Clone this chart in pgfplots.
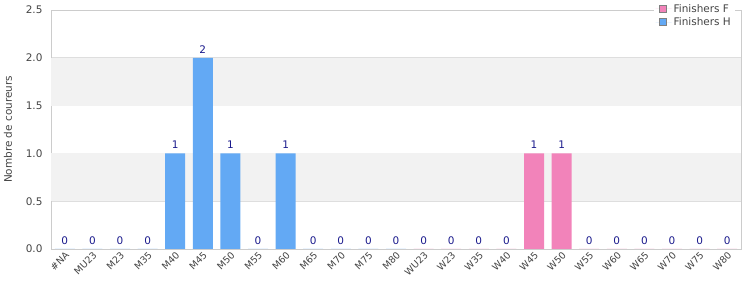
\documentclass[border=0pt]{standalone}
\usepackage{fontspec}
\setmainfont{DejaVu Sans}
\usepackage{pgfplots}
\pgfplotsset{compat=1.18}
\definecolor{barH}{HTML}{63A9F4}
\definecolor{barF}{HTML}{F283BA}
\definecolor{lbl}{HTML}{1A1A8C}
\definecolor{band}{HTML}{F2F2F2}
\definecolor{gridc}{HTML}{DEDEDE}
\definecolor{framec}{HTML}{CCCCCC}
\definecolor{txt}{HTML}{444444}
\begin{document}
\begin{tikzpicture}
\useasboundingbox (0,0) rectangle (750bp,300bp);
\begin{axis}[
  at={(51bp,51bp)}, anchor=south west,
  scale only axis, width=690bp, height=239bp,
  xmin=-0.5, xmax=24.5, ymin=0, ymax=2.5,
  ytick={0,0.5,1,1.5,2,2.5},
  yticklabel style={/pgf/number format/fixed, /pgf/number format/fixed zerofill, /pgf/number format/precision=1, font=\fontsize{10.5}{12}\selectfont, text=txt, xshift=-5bp},
  /pgf/number format/assume math mode=true,
  xtick={0,...,24},
  xticklabels={\#NA,MU23,M23,M35,M40,M45,M50,M55,M60,M65,M70,M75,M80,WU23,W23,W35,W40,W45,W50,W55,W60,W65,W70,W75,W80},
  xticklabel style={rotate=45, anchor=north east, font=\fontsize{9.5}{11}\selectfont, text=txt, inner sep=1.5bp},
  major tick length=0pt,
  ymajorgrids, grid style={gridc, line width=0.8bp},
  axis line style={framec, line width=0.8bp},
  ylabel={Nombre de coureurs},
  ylabel style={font=\fontsize{10.5}{12}\selectfont, text=txt, yshift=7bp},
  ybar, bar width=20bp, bar shift=0pt,
  nodes near coords,
  every node near coord/.append style={font=\fontsize{10.5}{12}\selectfont, text=lbl, yshift=1bp},
  legend style={at={(1,1)}, anchor=north east, xshift=-6bp, yshift=10bp, draw=none, fill=white, font=\fontsize{10.5}{12}\selectfont, text=txt, row sep=0bp, inner sep=2bp, nodes={inner sep=2bp}},
  legend cell align=left,
  legend image code/.code={\path (0bp,0bp) -- (16bp,0bp); \draw[#1, draw=gray, line width=0.8bp] (4bp,-3.5bp) rectangle (11bp,3.5bp);},
  clip=false,
]
\fill[band] (axis cs:-0.5,0.5) rectangle (axis cs:24.5,1.0);
\fill[band] (axis cs:-0.5,1.5) rectangle (axis cs:24.5,2.0);
\addplot[fill=barF, draw=none] coordinates {(13,0) (14,0) (15,0) (16,0) (17,1) (18,1) (19,0) (20,0) (21,0) (22,0) (23,0) (24,0)};
\addlegendentry{Finishers F}
\addplot[fill=barH, draw=none] coordinates {(0,0) (1,0) (2,0) (3,0) (4,1) (5,2) (6,1) (7,0) (8,1) (9,0) (10,0) (11,0) (12,0)};
\addlegendentry{Finishers H}
\end{axis}
\end{tikzpicture}
\end{document}
